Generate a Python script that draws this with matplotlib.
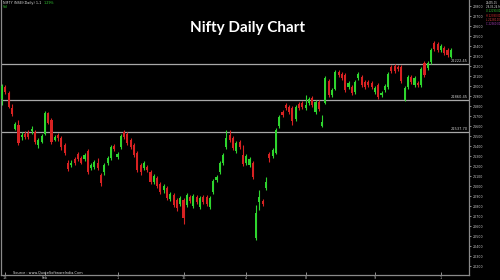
import matplotlib
matplotlib.use('Agg')
import matplotlib.pyplot as plt
from matplotlib.transforms import blended_transform_factory

opens = [21870, 21990, 21930, 21780, 21570, 21610, 21490, 21520, 21530, 21550,
         21540, 21410, 21440, 21520, 21730, 21660, 21460, 21510, 21480, 21410,
         21230, 21210, 21270, 21320, 21280, 21270, 21350, 21180, 21190, 21230,
         21110, 21140, 21230, 21280, 21400, 21290, 21390, 21540, 21520, 21460,
         21410, 21330, 21210, 21180, 21190, 21140, 21040, 21080, 21020, 20960,
         20980, 20870, 20910, 20860, 20820, 20860, 20810, 20890, 20800, 20890,
         20790, 20890, 20890, 20790, 20940, 21060, 21140, 21230, 21390, 21510,
         21480, 21350, 21440, 21310, 21230, 21210, 21230, 20480, 20840, 20850,
         20980, 21320, 21300, 21330, 21600, 21740, 21810, 21790, 21780, 21670,
         21820, 21830, 21780, 21830, 21880, 21740, 21840, 21600, 21830, 22050,
         21910, 21970, 22140, 22120, 22110, 21990, 21990, 21940, 22080, 22090,
         22040, 22040, 22030, 21940, 22010, 21910, 21960, 21990, 22190, 22200,
         22190, 22190, 21860, 21990, 22090, 22010, 22030, 22010, 22230, 22180,
         22240, 22430, 22420, 22360, 22380, 22360, 22290]
highs = [22020, 22010, 21950, 21820, 21640, 21660, 21540, 21550, 21560, 21600,
         21560, 21480, 21520, 21750, 21740, 21680, 21510, 21530, 21500, 21430,
         21260, 21260, 21290, 21340, 21300, 21330, 21370, 21230, 21260, 21280,
         21130, 21230, 21300, 21410, 21420, 21340, 21520, 21560, 21540, 21480,
         21430, 21350, 21230, 21250, 21210, 21160, 21120, 21100, 21040, 21020,
         21000, 20940, 20930, 20880, 20900, 20880, 20930, 20910, 20920, 20910,
         20900, 20910, 20910, 20900, 21070, 21110, 21250, 21330, 21560, 21560,
         21500, 21450, 21460, 21410, 21320, 21290, 21250, 20810, 20960, 20870,
         21090, 21340, 21380, 21580, 21710, 21760, 21830, 21810, 21800, 21810,
         21840, 21850, 21910, 21890, 21900, 21860, 21860, 21710, 22100, 22070,
         21980, 22160, 22160, 22140, 22130, 22050, 22010, 22060, 22140, 22110,
         22060, 22060, 22050, 22000, 22030, 21950, 22020, 22140, 22210, 22220,
         22210, 22210, 22000, 22110, 22110, 22100, 22050, 22190, 22250, 22250,
         22380, 22450, 22440, 22420, 22400, 22380, 22380]
lows = [21810, 21920, 21780, 21700, 21560, 21410, 21460, 21470, 21470, 21520,
        21420, 21380, 21430, 21510, 21620, 21420, 21450, 21450, 21360, 21310,
        21150, 21190, 21210, 21250, 21220, 21250, 21120, 21160, 21170, 21160,
        21000, 21110, 21210, 21260, 21350, 21270, 21370, 21470, 21410, 21370,
        21290, 21140, 21110, 21160, 21140, 21020, 21020, 20980, 20920, 20930,
        20860, 20850, 20790, 20750, 20800, 20620, 20790, 20830, 20780, 20820,
        20770, 20820, 20800, 20770, 20920, 21040, 21120, 21210, 21370, 21440,
        21360, 21330, 21370, 21200, 21210, 21190, 21070, 20460, 20760, 20800,
        20960, 21240, 21280, 21320, 21580, 21690, 21760, 21720, 21610, 21650,
        21760, 21770, 21760, 21810, 21790, 21720, 21750, 21590, 21820, 21890,
        21890, 21960, 22090, 22060, 21940, 21970, 21910, 21920, 22060, 21990,
        21970, 21990, 21970, 21920, 21870, 21890, 21940, 21970, 22130, 22130,
        22150, 22030, 21850, 21970, 22020, 21990, 21990, 21990, 22090, 22160,
        22220, 22350, 22340, 22340, 22310, 22290, 22280]
closes = [22000, 21940, 21790, 21720, 21620, 21430, 21510, 21490, 21490, 21570,
          21440, 21460, 21500, 21730, 21630, 21440, 21490, 21480, 21390, 21330,
          21170, 21230, 21230, 21270, 21230, 21310, 21140, 21210, 21240, 21180,
          21030, 21210, 21280, 21390, 21370, 21320, 21500, 21490, 21430, 21390,
          21310, 21160, 21140, 21230, 21160, 21040, 21100, 21000, 20940, 21000,
          20880, 20920, 20810, 20780, 20880, 20680, 20910, 20850, 20900, 20840,
          20880, 20840, 20820, 20880, 21050, 21090, 21230, 21310, 21480, 21460,
          21380, 21430, 21390, 21220, 21300, 21270, 21090, 20730, 20890, 20820,
          21040, 21280, 21360, 21560, 21690, 21710, 21780, 21740, 21650, 21790,
          21780, 21790, 21810, 21870, 21810, 21840, 21770, 21640, 22080, 21910,
          21960, 22140, 22110, 22080, 21960, 22030, 21930, 22040, 22120, 22010,
          21990, 22010, 21990, 21980, 21890, 21930, 22000, 22120, 22150, 22150,
          22170, 22050, 21980, 22090, 22040, 22080, 22010, 22170, 22110, 22230,
          22360, 22370, 22360, 22400, 22330, 22310, 22360]

level_values = [22222.45, 21860.45, 21537.70]
level_labels = ['22222.45', '21860.45', '21537.70']
ytick_values = list(range(20200, 22900, 100))
xtick_pos = [1, 13, 35, 55, 74, 92, 113, 133]
xtick_labels = ['13', 'Feb', '1', '16', '4', '8', '9', '1']
info_lines = ['22495.15', '28-03-24 Fri', 'O 22290.00', 'H 22380.00',
              'L 22280.00', 'C 22360.00']
info_colors = ['#e0e0e0', '#e0e0e0', '#33cc33', '#e03030', '#e04040', '#b040c0']

GREEN = '#2ed52e'
RED = '#d82222'

fig = plt.figure(figsize=(5, 2.8), dpi=100, facecolor='black')
ax = fig.add_axes([1/500, 5/280, 468/500, 275/280], facecolor='black')

idx = list(range(len(opens)))
for i in idx:
    o, h, l, c = opens[i], highs[i], lows[i], closes[i]
    col = GREEN if c >= o else RED
    ax.vlines(i, l, h, color=col, lw=0.8, zorder=2)
    ax.bar(i, abs(c - o), bottom=min(o, c), width=0.64, color=col,
           edgecolor='none', zorder=3)

trans = blended_transform_factory(ax.transAxes, ax.transData)
for v, lab in zip(level_values, level_labels):
    ax.axhline(v, color='#a8a8a8', lw=0.9, zorder=1)
    ax.text(0.998, v + 12, lab, transform=trans, ha='right', va='bottom',
            fontsize=2.6, color='#d0d0d0')

ax.set_xlim(-0.3, 141.5)
ax.set_ylim(20110, 22860)

ax.yaxis.tick_right()
ax.set_yticks(ytick_values)
ax.set_yticklabels([str(v) for v in ytick_values])
ax.tick_params(axis='y', colors='#c8c8c8', labelsize=2.3, length=1.5,
               width=0.5, pad=1)
ax.set_xticks(xtick_pos)
ax.set_xticklabels(xtick_labels)
ax.tick_params(axis='x', colors='#c8c8c8', labelsize=2.5, length=2,
               width=0.5, pad=0.5, direction='in')

ax.spines['top'].set_visible(False)
for s in ['left', 'right', 'bottom']:
    ax.spines[s].set_color('#8a8a8a')
    ax.spines[s].set_linewidth(0.9)

fig.text(0.494, 1 - 28/280, 'Nifty Daily Chart', ha='center', va='center',
         fontsize=11, fontweight='bold', color='white', family=['Lato', 'DejaVu Sans'])

fig.text(3/500, 1 - 3/280, 'NIFTY (NSE)(Daily) 1,1', ha='left', va='center',
         fontsize=2.4, color='#e0e0e0')
fig.text(44/500, 1 - 3/280, '1.29%', ha='left', va='center',
         fontsize=2.4, color='#33cc33')
fig.text(3/500, 1 - 7.5/280, 'Vol', ha='left', va='center',
         fontsize=2.4, color='#33cc33')

for k, (t, c) in enumerate(zip(info_lines, info_colors)):
    fig.text(485.5/500, 1 - (3 + 4.2 * k)/280, t, ha='left', va='center',
             fontsize=1.8, color=c)

fig.text(13/500, 1 - 272/280, 'Source : www.QuoteSoftwareIndia.Com', ha='left',
         va='center', fontsize=2.5, color='#e0e0e0')

fig.savefig('out.png', dpi=100, facecolor='black')
